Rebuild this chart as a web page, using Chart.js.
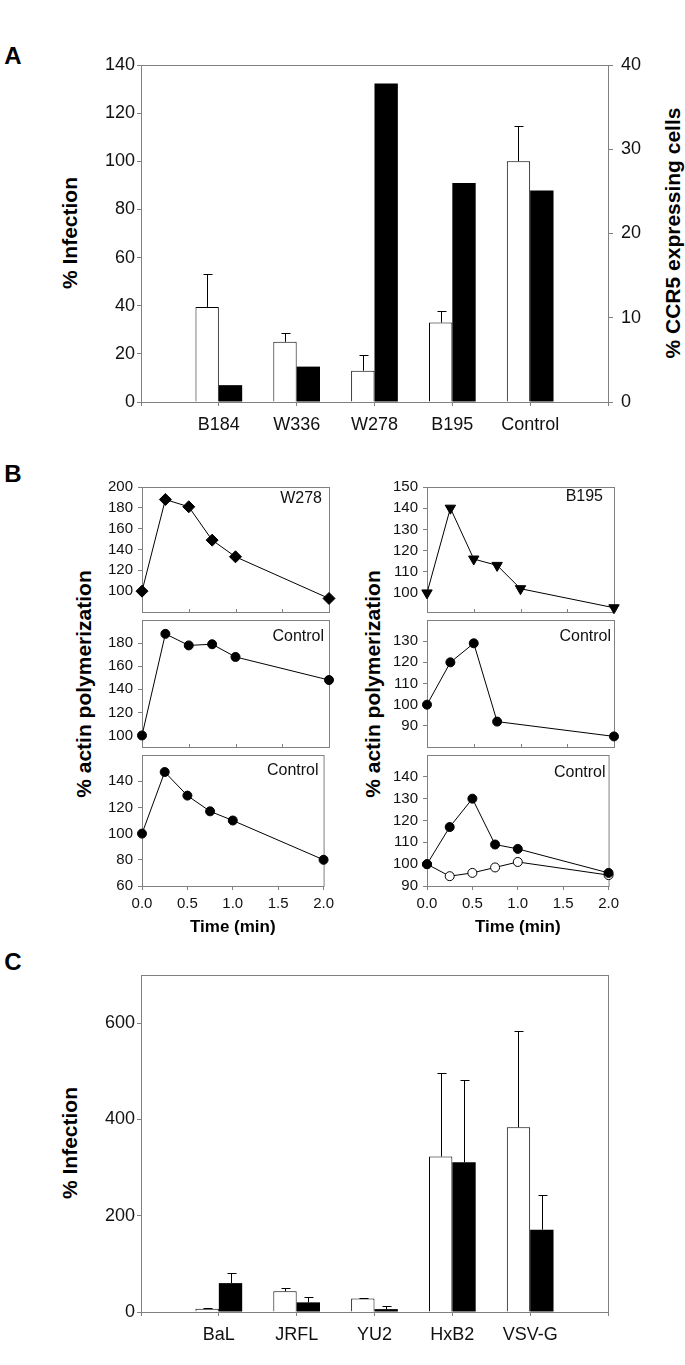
<!DOCTYPE html>
<html>
<head>
<meta charset="utf-8">
<script src="https://cdn.jsdelivr.net/npm/chart.js@4.4.0/dist/chart.umd.min.js"></script>
<style>
  html, body { margin: 0; padding: 0; background: #fff; }
  body { width: 685px; height: 1365px; position: relative; overflow: hidden; font-family: "Liberation Sans", Arial, sans-serif; }
  canvas { position: absolute; }
  .lbl { position: absolute; transform: translate(-50%, -50%); white-space: nowrap; font-weight: bold; color: #000; line-height: 1; }
  .rot { transform: translate(-50%, -50%) rotate(-90deg); font-size: 21px; }
</style>
</head>
<body>
<div class="lbl" style="left:13px;top:56px;font-size:24px">A</div>
<div class="lbl" style="left:13px;top:474px;font-size:24px">B</div>
<div class="lbl" style="left:13px;top:962px;font-size:24px">C</div>

<div class="lbl rot" style="left:69px;top:233px">% Infection</div>
<div class="lbl rot" style="left:672px;top:233px">% CCR5 expressing cells</div>
<div class="lbl rot" style="left:83px;top:684px">% actin polymerization</div>
<div class="lbl rot" style="left:372px;top:684px">% actin polymerization</div>
<div class="lbl rot" style="left:69px;top:1143px">% Infection</div>

<canvas id="chartA" style="left:0;top:0" width="685" height="455"></canvas>

<canvas id="bTL" style="left:82px;top:473px" width="257" height="153"></canvas>
<canvas id="bML" style="left:82px;top:606px" width="257" height="155"></canvas>
<canvas id="bBL" style="left:82px;top:741px" width="257" height="200"></canvas>
<canvas id="bTR" style="left:367px;top:473px" width="257" height="153"></canvas>
<canvas id="bMR" style="left:367px;top:606px" width="257" height="155"></canvas>
<canvas id="bBR" style="left:367px;top:741px" width="257" height="200"></canvas>

<canvas id="chartC" style="left:0;top:920px" width="685" height="445"></canvas>

<script>
"use strict";

// ---- panel A data ----
const donorCats = ['B184', 'W336', 'W278', 'B195', 'Control'];
const infectionA = [39.5, 25, 13, 33, 100];
const infectionAErr = [13.5, 3.5, 6.5, 5, 14.5];
const ccr5A = [2.0, 4.2, 37.8, 26.0, 25.1];
const leftTicksA = [0, 20, 40, 60, 80, 100, 120, 140];
const rightTicksA = [0, 10, 20, 30, 40];

// ---- panel B data ----
const timeMin = [0, 0.25, 0.5, 0.75, 1.0, 2.0];
const timeMinShort = [0, 0.25, 0.5, 0.75, 2.0];
const timeTicks = [0, 0.5, 1.0, 1.5, 2.0];
const w278 = [100, 188, 181, 149, 133, 93];
const w278Control = [100, 188, 178, 179, 168, 148];
const w278Control2 = [100, 147, 129, 117, 110, 80];
const b195 = [100, 140, 116, 113, 102, 93];
const b195Control = [100, 120, 129, 92, 85];
const b195Control2 = [100, 117, 130, 109, 107, 96];
const b195Control2Open = [100, 94.5, 96, 98.5, 101, 95];
const ticksTL = [100, 120, 140, 160, 180, 200];
const ticksML = [100, 120, 140, 160, 180];
const ticksBL = [60, 80, 100, 120, 140];
const ticksTR = [100, 110, 120, 130, 140, 150];
const ticksMR = [90, 100, 110, 120, 130];
const ticksBR = [90, 100, 110, 120, 130, 140];

// ---- panel C data ----
const virusCats = ['BaL', 'JRFL', 'YU2', 'HxB2', 'VSV-G'];
const infectionC1 = [7, 43, 28, 323, 384];
const infectionC1Err = [2, 6, 1.5, 173, 199];
const infectionC2 = [60, 20, 6, 311, 171];
const infectionC2Err = [21, 12, 6, 170, 71];
const ticksC = [0, 200, 400, 600];

Chart.defaults.font.family = '"Liberation Sans", Arial, sans-serif';
Chart.defaults.color = '#111';

const AXIS = '#808080';
const pad = arr => [null, ...arr, null];
const fixTicks = vals => axis => { axis.ticks = vals.map(v => ({ value: v })); };

// box around the plot area, plus small inner ticks on the bottom edge
const frame = {
    id: 'frame',
    beforeDatasetsDraw(chart) {
        const { ctx, chartArea } = chart;
        const opts = chart.options.plugins.frame || {};
        ctx.save();
        ctx.strokeStyle = AXIS;
        ctx.lineWidth = 1;
        ctx.strokeRect(chartArea.left + 0.5, chartArea.top + 0.5,
            chartArea.right - chartArea.left, chartArea.bottom - chartArea.top);
        if (opts.innerTicks) {
            ctx.beginPath();
            opts.innerTicks.forEach(v => {
                const x = Math.round(chart.scales.x.getPixelForValue(v)) + 0.5;
                ctx.moveTo(x, chartArea.bottom + 0.5);
                ctx.lineTo(x, chartArea.bottom - 3);
            });
            ctx.stroke();
        }
        ctx.restore();
    }
};

// upward error bars read from dataset.errors
const errorBars = {
    id: 'errorBars',
    afterDatasetsDraw(chart) {
        const ctx = chart.ctx;
        chart.data.datasets.forEach((ds, i) => {
            if (!ds.errors) return;
            const meta = chart.getDatasetMeta(i);
            const yScale = chart.scales[meta.yAxisID];
            meta.data.forEach((bar, j) => {
                const v = ds.data[j], e = ds.errors[j];
                if (v == null || e == null) return;
                const x = Math.round(bar.x) + 0.5;
                const yTop = Math.round(yScale.getPixelForValue(v + e)) + 0.5;
                ctx.save();
                ctx.strokeStyle = '#000';
                ctx.lineWidth = 1;
                ctx.beginPath();
                ctx.moveTo(x, bar.y);
                ctx.lineTo(x, yTop);
                ctx.moveTo(x - 4, yTop);
                ctx.lineTo(x + 5, yTop);
                ctx.stroke();
                ctx.restore();
            });
        });
    }
};

// name of the sample in the upper right corner
const corner = {
    id: 'corner',
    afterDraw(chart) {
        const opts = chart.options.plugins.corner;
        if (!opts || !opts.text) return;
        const { ctx, chartArea } = chart;
        ctx.save();
        ctx.font = '16px "Liberation Sans", Arial, sans-serif';
        ctx.fillStyle = '#111';
        ctx.textAlign = 'right';
        ctx.textBaseline = 'middle';
        ctx.fillText(opts.text, chartArea.right - opts.dx, chartArea.top + opts.dy);
        ctx.restore();
    }
};

function barPanel(id, cats, sets, left) {
    const scales = {
        x: {
            type: 'category',
            offset: false,
            grid: { offset: false, drawOnChartArea: false, tickLength: 4, color: AXIS },
            border: { display: false },
            ticks: { font: { size: 18 }, padding: 8, maxRotation: 0, autoSkip: false, color: '#111' },
            afterFit: s => { s.height = 53; }
        },
        y: {
            position: 'left',
            min: left.min, max: left.max,
            afterBuildTicks: fixTicks(left.ticks),
            grid: { drawOnChartArea: false, tickLength: 4, color: AXIS },
            border: { display: false },
            ticks: { font: { size: 18 }, padding: 2, color: '#111' },
            afterFit: s => { s.width = 141; }
        }
    };
    if (left.right) {
        scales.y2 = {
            position: 'right',
            min: left.right.min, max: left.right.max,
            afterBuildTicks: fixTicks(left.right.ticks),
            grid: { drawOnChartArea: false, tickLength: 5, color: AXIS },
            border: { display: false },
            ticks: { font: { size: 18 }, padding: 8, color: '#111' },
            afterFit: s => { s.width = 77; }
        };
    }
    return new Chart(document.getElementById(id), {
        type: 'bar',
        data: { labels: ['', ...cats, ''], datasets: sets },
        options: {
            responsive: false,
            animation: false,
            layout: { padding: { top: left.top, left: 0, right: left.right ? 0 : 77, bottom: 0 } },
            scales: scales,
            plugins: { legend: { display: false }, tooltip: { enabled: false } }
        },
        plugins: [frame, errorBars]
    });
}

const whiteBar = { backgroundColor: '#fff', borderColor: '#000', borderWidth: 1, borderSkipped: 'bottom', categoryPercentage: 0.6, barPercentage: 1 };
const blackBar = { backgroundColor: '#000', borderColor: '#000', borderWidth: 0, categoryPercentage: 0.6, barPercentage: 1 };

barPanel('chartA', donorCats, [
    { ...whiteBar, data: pad(infectionA), errors: pad(infectionAErr), yAxisID: 'y' },
    { ...blackBar, data: pad(ccr5A), yAxisID: 'y2' }
], { min: 0, max: 140, ticks: leftTicksA, top: 65, right: { min: 0, max: 40, ticks: rightTicksA } });

barPanel('chartC', virusCats, [
    { ...whiteBar, data: pad(infectionC1), errors: pad(infectionC1Err), yAxisID: 'y' },
    { ...blackBar, data: pad(infectionC2), errors: pad(infectionC2Err), yAxisID: 'y' }
], { min: 0, max: 700, ticks: ticksC, top: 55 });

function subPlot(id, cfg) {
    const isBottom = !!cfg.bottom;
    return new Chart(document.getElementById(id), {
        type: 'line',
        data: {
            datasets: cfg.series.map(s => ({
                data: s.x.map((x, i) => ({ x: x, y: s.y[i] })),
                borderColor: '#000',
                borderWidth: 1,
                tension: 0,
                clip: false,
                pointStyle: s.style,
                pointRadius: s.r,
                pointRotation: s.rot || 0,
                pointBackgroundColor: s.fill,
                pointBorderColor: '#000',
                pointBorderWidth: 1
            }))
        },
        options: {
            responsive: false,
            animation: false,
            layout: { padding: { top: 10, right: 10, left: 0, bottom: 0 } },
            scales: {
                x: {
                    type: 'linear', min: 0, max: 2,
                    afterBuildTicks: fixTicks(timeTicks),
                    grid: { drawOnChartArea: false, drawTicks: isBottom, tickLength: 4, color: AXIS },
                    border: { display: false },
                    ticks: { display: isBottom, font: { size: 15 }, padding: 5, color: '#111', callback: v => v.toFixed(1) },
                    title: { display: isBottom, text: 'Time (min)', color: '#000', font: { size: 17, weight: 'bold' }, padding: { top: 0, bottom: 3 } },
                    afterFit: s => { s.height = isBottom ? 55 : 10; }
                },
                y: {
                    min: cfg.min, max: cfg.max,
                    afterBuildTicks: fixTicks(cfg.ticks),
                    grid: { drawOnChartArea: false, tickLength: 4, color: AXIS },
                    border: { display: false },
                    ticks: { font: { size: 15 }, padding: 5, color: '#111' },
                    afterFit: s => { s.width = 60; }
                }
            },
            plugins: {
                legend: { display: false },
                tooltip: { enabled: false },
                frame: { innerTicks: isBottom ? null : [0.5, 1.0, 1.5] },
                corner: { text: cfg.label, dx: cfg.dx, dy: cfg.dy }
            }
        },
        plugins: [frame, corner]
    });
}

const diamond = { style: 'rectRot', r: 6, fill: '#000' };
const dot = { style: 'circle', r: 4.5, fill: '#000' };
const ring = { style: 'circle', r: 4.5, fill: '#fff' };
const tri = { style: 'triangle', r: 6, rot: 180, fill: '#000' };

subPlot('bTL', { min: 80, max: 200, ticks: ticksTL, label: 'W278', dx: 7, dy: 12,
    series: [{ ...diamond, x: timeMin, y: w278 }] });
subPlot('bML', { min: 90, max: 200, ticks: ticksML, label: 'Control', dx: 5, dy: 17,
    series: [{ ...dot, x: timeMin, y: w278Control }] });
subPlot('bBL', { min: 60, max: 160, ticks: ticksBL, label: 'Control', dx: 5, dy: 16, bottom: true,
    series: [{ ...dot, x: timeMin, y: w278Control2 }] });
subPlot('bTR', { min: 91, max: 150, ticks: ticksTR, label: 'B195', dx: 11, dy: 10,
    series: [{ ...tri, x: timeMin, y: b195 }] });
subPlot('bMR', { min: 80, max: 140, ticks: ticksMR, label: 'Control', dx: 3, dy: 17,
    series: [{ ...dot, x: timeMinShort, y: b195Control }] });
subPlot('bBR', { min: 90, max: 150, ticks: ticksBR, label: 'Control', dx: 3, dy: 18, bottom: true,
    series: [{ ...dot, x: timeMin, y: b195Control2 }, { ...ring, x: timeMin, y: b195Control2Open }] });
</script>
</body>
</html>
